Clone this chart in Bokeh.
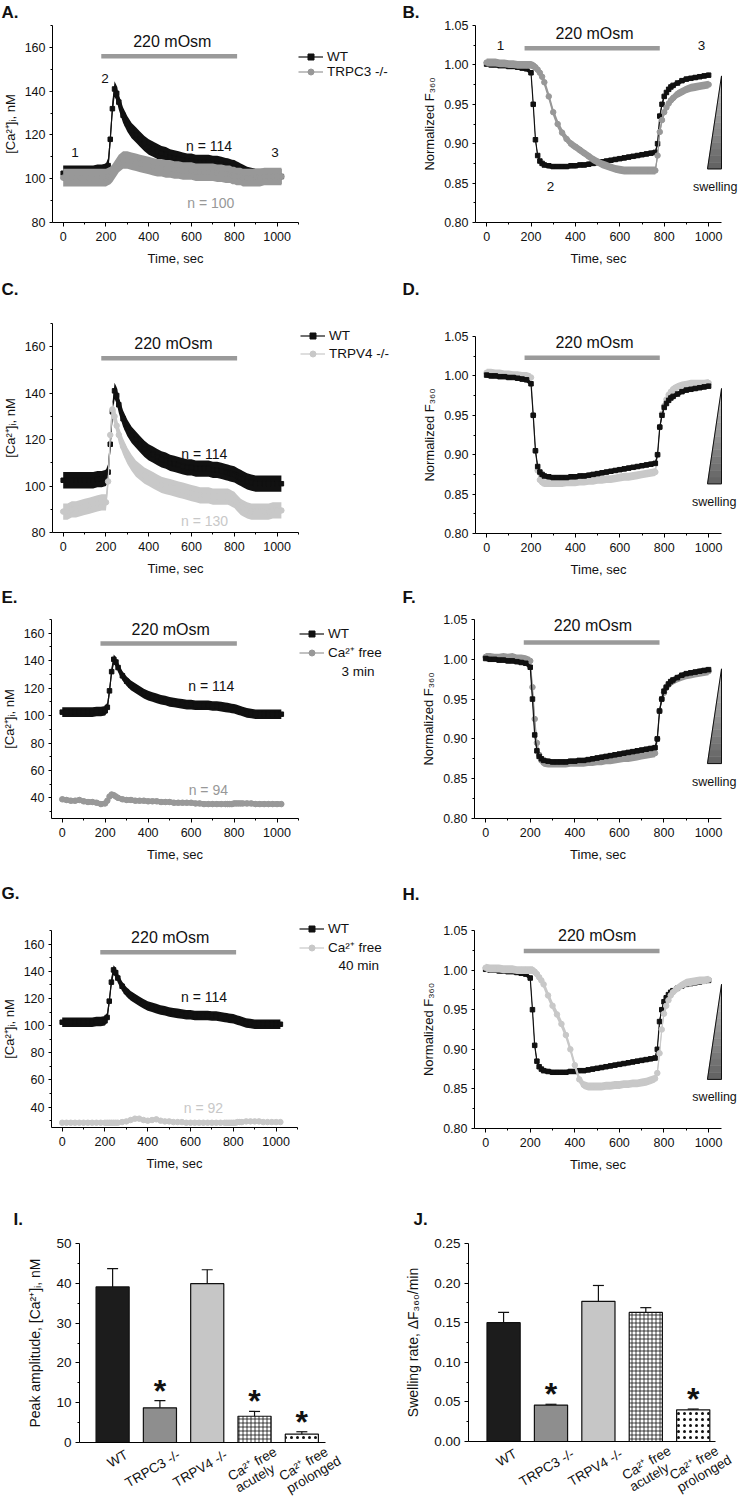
from bokeh.plotting import figure
from bokeh.layouts import column, row
from bokeh.models import (Range1d, FixedTicker, Label, Legend, LegendItem, Whisker,
                          TeeHead, ColumnDataSource, PrintfTickFormatter)
from bokeh.embed import file_html
from bokeh.resources import INLINE

FONT = "Liberation Sans"

# ------------------------------------------------------------------ data
T_CA = [0, 20, 40, 60, 80, 100, 120, 140, 160, 180, 200,
        210, 220, 230, 240, 250, 260,
        280, 300, 320, 340, 360, 380, 400, 420, 440, 460, 480, 500, 520, 540, 560, 580,
        600, 620, 640, 660, 680, 700, 720, 740, 760,
        770, 780, 790, 800, 810, 820, 830, 840,
        860, 880, 900, 920, 940, 960, 980, 1000, 1020]
T_F = T_CA[:-1]

STIM_CA = [178, 813]     # 220 mOsm application, left-panel time axis
STIM_F = [171, 780]      # 220 mOsm application, right-panel time axis

WT_CA = [102.5, 102.5, 102.5, 102.5, 102.5, 102.5, 102.5, 102.5, 103, 103, 103.5,
         106, 118, 132, 141, 139, 135,
         129, 125, 122, 120, 118, 116, 114.5, 113.5, 112.5, 111.5, 111, 110, 109.5, 109, 108.5, 108,
         108, 107.5, 107.5, 107.5, 107.5, 107, 107, 106.5, 106,
         105.8, 105.5, 105.2, 105, 104.5, 104, 103.5, 103,
         102, 101.5, 101, 101, 101, 101, 101, 101, 101]
TRPC3_CA = [100.5, 100.5, 100.5, 100.5, 100.5, 100.5, 100.5, 100.5, 100.5, 100.5, 100.5,
            101, 101.5, 102.5, 104, 105.5, 107,
            108.5, 108.5, 108, 107.5, 107, 106.5, 106, 105.5, 105, 105, 104.5, 104.5, 104, 104, 103.5, 103.5,
            103.5, 103, 103, 103, 103, 103, 102.5, 102.5, 102,
            102, 102, 101.5, 101.5, 101, 101, 101, 100.5,
            100.5, 100.5, 100.5, 100.5, 101, 101, 101, 101, 101]
TRPV4_CA = [89, 89, 90, 90, 90.5, 91, 91.5, 92, 92.5, 93, 93,
            102, 122, 133, 130, 126, 122,
            117, 113, 110, 107.5, 106, 104.5, 103.5, 102.5, 101.5, 100.5, 100, 99.5, 99, 98.5, 98, 97.5,
            97, 96.5, 96, 96, 96, 95.5, 95.5, 95.5, 95.5,
            95.5, 95, 94.5, 94, 93, 92, 91, 90.5,
            89.5, 89, 89, 89, 89, 89, 89.5, 89.5, 89.5]
CAFREE3_CA = [39, 38.5, 38, 38, 38.5, 37.5, 37, 37, 36.5, 35.5, 36,
              38, 41, 42.5, 42, 41, 40,
              39, 38.5, 38.5, 38, 38, 38, 37.5, 37.5, 37.5, 37, 37, 37, 36.5, 36.5, 36.5, 36.5,
              36.5, 36, 36, 35.5, 35.5, 35.5, 35.5, 35.5, 35.5,
              35.5, 35.5, 35.5, 36, 36, 36, 36, 36,
              36, 36, 35.5, 35.5, 35.5, 35.5, 35.5, 35.5, 35.5]
CAFREE40_CA = [28.5, 28.5, 28.5, 28.5, 28.5, 28.5, 28.5, 28.5, 28.5, 28.5, 28.5,
               28.5, 28.5, 28.5, 28.5, 28.5, 28.5,
               29, 29.5, 30.5, 31.5, 31.5, 30.5, 30, 30.5, 31, 30, 29.5, 29.5, 29, 29, 29, 28.5,
               28.5, 28.5, 28.5, 28.5, 28.5, 28.5, 28.5, 28.5, 28.5,
               28.5, 28.5, 28.5, 28.5, 28.5, 29, 29, 29,
               29.5, 29.5, 29.5, 29.5, 29, 29, 29, 29, 29]

WT_F = [1.001, 1.000, 1.000, 0.999, 0.999, 0.998, 0.998, 0.997, 0.996, 0.995, 0.990,
        0.950, 0.905, 0.885, 0.878, 0.875, 0.873,
        0.872, 0.871, 0.871, 0.871, 0.871, 0.872, 0.872, 0.873, 0.873, 0.874, 0.875, 0.876, 0.877, 0.878, 0.879, 0.880,
        0.881, 0.882, 0.883, 0.884, 0.885, 0.886, 0.887, 0.888, 0.889,
        0.900, 0.935, 0.950, 0.960, 0.965, 0.969, 0.972, 0.974,
        0.977, 0.980, 0.982, 0.983, 0.984, 0.985, 0.986, 0.987]
TRPC3_F = [1.003, 1.003, 1.003, 1.002, 1.002, 1.001, 1.001, 1.000, 1.000, 1.000, 1.000,
           0.999, 0.997, 0.994, 0.990, 0.985, 0.978,
           0.960, 0.940, 0.925, 0.914, 0.906, 0.900, 0.896, 0.892, 0.888, 0.884, 0.880, 0.877, 0.874, 0.872, 0.870, 0.868,
           0.867, 0.866, 0.866, 0.866, 0.866, 0.866, 0.866, 0.866, 0.866,
           0.885, 0.915, 0.930, 0.940, 0.946, 0.951, 0.955, 0.958,
           0.963, 0.966, 0.969, 0.971, 0.972, 0.973, 0.974, 0.975]
TRPV4_F = [1.004, 1.004, 1.003, 1.003, 1.002, 1.002, 1.001, 1.001, 1.000, 1.000, 0.998,
           0.950, 0.905, 0.880, 0.868, 0.865, 0.864,
           0.864, 0.864, 0.864, 0.864, 0.865, 0.865, 0.865, 0.866, 0.866, 0.867, 0.867, 0.868, 0.868, 0.869, 0.869, 0.870,
           0.871, 0.872, 0.872, 0.873, 0.874, 0.875, 0.876, 0.877, 0.878,
           0.900, 0.935, 0.952, 0.962, 0.970, 0.976, 0.980, 0.983,
           0.986, 0.988, 0.989, 0.990, 0.990, 0.990, 0.990, 0.991]
CAFREE3_F = [1.003, 1.003, 1.002, 1.002, 1.003, 1.002, 1.003, 1.001, 1.001, 1.000, 0.998,
             0.965, 0.925, 0.895, 0.880, 0.873, 0.870,
             0.869, 0.869, 0.869, 0.869, 0.869, 0.870, 0.870, 0.870, 0.870, 0.871, 0.871, 0.872, 0.872, 0.873, 0.873, 0.874,
             0.875, 0.876, 0.876, 0.877, 0.878, 0.879, 0.880, 0.881, 0.882,
             0.900, 0.935, 0.950, 0.958, 0.964, 0.968, 0.971, 0.973,
             0.976, 0.978, 0.980, 0.981, 0.982, 0.983, 0.984, 0.985]
CAFREE40_F = [1.003, 1.002, 1.002, 1.002, 1.001, 1.001, 1.001, 1.000, 1.000, 1.000, 1.000,
              1.000, 0.998, 0.995, 0.991, 0.987, 0.982,
              0.968, 0.955, 0.944, 0.932, 0.918, 0.900, 0.880, 0.862, 0.855, 0.853, 0.853, 0.853, 0.853, 0.854, 0.854, 0.855,
              0.855, 0.856, 0.856, 0.857, 0.857, 0.858, 0.859, 0.861, 0.863,
              0.870, 0.895, 0.925, 0.945, 0.955, 0.962, 0.968, 0.972,
              0.977, 0.981, 0.984, 0.985, 0.986, 0.987, 0.987, 0.988]

SEM_CA = {"WT": 3.5, "TRPC3": 4.0, "TRPV4": 3.5, "CAFREE3": 2.0, "CAFREE40": 1.5}
SEM_F = {"WT": 0.003, "TRPC3": 0.005, "TRPV4": 0.005, "CAFREE3": 0.005, "CAFREE40": 0.005}

N_CELLS = {"WT": 114, "TRPC3": 100, "TRPV4": 130, "CAFREE3": 94, "CAFREE40": 92}

GROUPS = ["WT", "TRPC3 -/-", "TRPV4 -/-", "Ca²⁺ free\nacutely", "Ca²⁺ free\nprolonged"]
PEAK = [39.1, 8.7, 39.9, 6.6, 2.1]
PEAK_ERR = [4.6, 1.8, 3.5, 1.2, 0.6]
PEAK_SIG = [False, True, False, True, True]
RATE = [0.150, 0.046, 0.177, 0.163, 0.040]
RATE_ERR = [0.013, 0.001, 0.020, 0.006, 0.001]
RATE_SIG = [False, True, False, False, True]

X_TICKS = [0, 200, 400, 600, 800, 1000]
X_MINOR_CA = [100, 300, 500, 700, 900, 1100]
X_MINOR_F = [100, 300, 500, 700, 900]
Y_TICKS_AC = [80, 100, 120, 140, 160]
Y_MINOR_AC = [90, 110, 130, 150, 170]
Y_TICKS_EG = [40, 60, 80, 100, 120, 140, 160]
Y_MINOR_EG = [30, 50, 70, 90, 110, 130, 150, 170]
F_TICKS = [0.80, 0.85, 0.90, 0.95, 1.00, 1.05]
F_MINOR = [0.825, 0.875, 0.925, 0.975, 1.025]

# ------------------------------------------------------------------ helpers
C_WT = "#111111"
C_DARKGRAY = "#989898"
C_LIGHTGRAY = "#c8c8c8"

LEFT_W, RIGHT_W = 393, 346
ROWS = [(0, 278), (278, 307), (585, 295), (880, 320), (1200, 297)]


def make_panel(fig_box, frame, xr, yr):
    """Figure whose whole canvas is the plotting frame; the axes are pinned at the
    data-range edges so that texts around them are never clipped."""
    fx, fy, fw, fh = fig_box
    x0, y0, x1, y1 = frame
    sx = (xr[1] - xr[0]) / (x1 - x0)
    sy = (yr[1] - yr[0]) / (y1 - y0)
    full_x = (xr[0] - (x0 - fx) * sx, xr[1] + (fx + fw - x1) * sx)
    full_y = (yr[0] - (fy + fh - y1) * sy, yr[1] + (y0 - fy) * sy)
    p = figure(width=fw, height=fh, x_range=Range1d(*full_x), y_range=Range1d(*full_y),
               output_backend="svg", toolbar_location=None, title=None,
               min_border_left=0, min_border_right=0, min_border_top=0, min_border_bottom=0)
    p.outline_line_color = None
    p.xgrid.visible = False
    p.ygrid.visible = False
    p.background_fill_color = "white"
    p.border_fill_color = "white"
    p.xaxis.fixed_location = yr[0]
    p.xaxis.bounds = xr
    p.yaxis.fixed_location = xr[0]
    p.yaxis.bounds = yr

    def X(px):
        return xr[0] + (px - x0) * sx

    def Y(py):
        return yr[1] - (py - y0) * sy

    def PX(x):
        return x0 + (x - xr[0]) / sx

    def PY(y):
        return y0 + (yr[1] - y) / sy

    return dict(p=p, X=X, Y=Y, PX=PX, PY=PY, frame=frame, fig=fig_box)


def style_axes(pn, xticks, xminor, yticks, yminor, xlabel, ylabel, yfmt=None,
               tick_fs="12.5px", label_fs="13px"):
    p = pn["p"]
    for ax in list(p.xaxis) + list(p.yaxis):
        ax.axis_line_color = "black"
        ax.axis_line_width = 1
        ax.major_tick_line_color = "black"
        ax.minor_tick_line_color = "black"
        ax.major_tick_in = 0
        ax.major_tick_out = 4
        ax.minor_tick_in = 0
        ax.minor_tick_out = 2
        ax.major_label_text_font = FONT
        ax.major_label_text_font_size = tick_fs
        ax.major_label_text_color = "#111111"
        ax.axis_label_text_font = FONT
        ax.axis_label_text_font_size = label_fs
        ax.axis_label_text_font_style = "normal"
        ax.axis_label_text_color = "#111111"
    p.xaxis.ticker = FixedTicker(ticks=xticks, minor_ticks=xminor)
    p.yaxis.ticker = FixedTicker(ticks=yticks, minor_ticks=yminor)
    p.xaxis.major_label_standoff = 5
    p.xaxis.axis_label_standoff = 7
    p.yaxis.major_tick_out = 3
    p.yaxis.major_label_standoff = 4
    p.yaxis.axis_label_standoff = 4
    p.xaxis.axis_label = xlabel
    p.yaxis.axis_label = ylabel
    if yfmt:
        p.yaxis.formatter = PrintfTickFormatter(format=yfmt)


def label(pn, x, y, text, size="13.5px", color="#111111", align="center",
          baseline="middle", style="normal", angle=0):
    pn["p"].add_layout(Label(x=x, y=y, text=text, text_font=FONT, text_font_size=size,
                             text_color=color, text_align=align, text_baseline=baseline,
                             text_font_style=style, angle=angle, angle_units="deg"))


def label_px(pn, px, py, text, **kw):
    label(pn, pn["X"](px), pn["Y"](py), text, **kw)


def panel_letter(pn, px, py, letter):
    label_px(pn, px, py, letter, size="17px", style="bold", align="left", baseline="top")


def draw_series(pn, t, m, sem, color, marker, size):
    p = pn["p"]
    src = ColumnDataSource(dict(t=t, m=m, lo=[v - sem for v in m], hi=[v + sem for v in m]))
    p.varea(x="t", y1="lo", y2="hi", source=src, fill_color=color, fill_alpha=1)
    ln = p.line(x="t", y="m", source=src, line_color=color, line_width=1.2)
    sc = p.scatter(x="t", y="m", source=src, marker=marker, size=size,
                   fill_color=color, line_color=color)
    return [ln, sc]


def stim(pn, span, y_bar, tx, y_text):
    pn["p"].line(x=span, y=[y_bar, y_bar], line_color="#9a9a9a", line_width=4.5)
    label(pn, tx, y_text, "220 mOsm", size="16px")


def add_legend(pn, entries, left_px, top_px, spacing):
    fx, fy, fw, fh = pn["fig"]
    n = len(entries)
    h = n * 15 + (n - 1) * spacing
    lg = Legend(items=[LegendItem(label=lab, renderers=rs) for lab, rs in entries],
                location=(left_px - fx, (fy + fh) - (top_px + h)),
                orientation="vertical", spacing=spacing, padding=0, margin=0,
                glyph_width=25, glyph_height=15, label_height=15, label_standoff=4,
                label_text_font=FONT, label_text_font_size="13.5px",
                label_text_color="#111111", border_line_color=None,
                background_fill_alpha=0)
    pn["p"].add_layout(lg)


def swelling(pn, x0, x1, yb, yt, lx, ly):
    p = pn["p"]
    n = 14
    xs, ys, cols = [], [], []
    for i in range(n):
        ya = yb + (yt - yb) * i / n
        yc = yb + (yt - yb) * (i + 1) / n
        xa = x0 + (x1 - x0) * (ya - yb) / (yt - yb)
        xc = x0 + (x1 - x0) * (yc - yb) / (yt - yb)
        xs.append([xa, x1, x1, xc])
        ys.append([ya, ya, yc, yc])
        g = int(100 + (195 - 100) * i / (n - 1))
        cols.append("#%02x%02x%02x" % (g, g, g))
    p.patches(xs=xs, ys=ys, fill_color=cols, line_color=cols, line_width=0.6)
    p.patch(x=[x0, x1, x1], y=[yb, yb, yt], fill_color=None, line_color="#111111", line_width=1)
    label(pn, lx, ly, "swelling", size="12.5px")


CA_XR = (-50, 1100)
F_XR = (-50, 1058)


def ca_panel(ri, frame, yr, yticks, yminor):
    ry, rh = ROWS[ri]
    pn = make_panel((0, ry, LEFT_W, rh), frame, CA_XR, yr)
    style_axes(pn, X_TICKS, X_MINOR_CA, yticks, yminor, "Time, sec", "[Ca²⁺]ᵢ, nM")
    return pn


def f_panel(ri, frame):
    ry, rh = ROWS[ri]
    pn = make_panel((LEFT_W, ry, RIGHT_W, rh), frame, F_XR, (0.80, 1.05))
    style_axes(pn, X_TICKS, X_MINOR_F, F_TICKS, F_MINOR, "Time, sec", "Normalized F₃₆₀", yfmt="%.2f")
    return pn


# ------------------------------------------------------------------ A
A = ca_panel(0, (52, 25, 298, 222), (80, 170), Y_TICKS_AC, Y_MINOR_AC)
panel_letter(A, 1, 2, "A.")
stim(A, STIM_CA, 156, 510, 162.5)
rA_wt = draw_series(A, T_CA, WT_CA, SEM_CA["WT"], C_WT, "square", 4.5)
rA_c3 = draw_series(A, T_CA, TRPC3_CA, SEM_CA["TRPC3"], C_DARKGRAY, "circle", 5.5)
label(A, 55, 112, "1")
label(A, 195, 146, "2")
label(A, 990, 112, "3")
label(A, 682, 115, "n = %d" % N_CELLS["WT"], size="14px")
label(A, 690, 89, "n = %d" % N_CELLS["TRPC3"], size="14px", color=C_DARKGRAY)
add_legend(A, [("WT", rA_wt), ("TRPC3 -/-", rA_c3)], 298, 49, 0)

# ------------------------------------------------------------------ B
B = f_panel(0, (475, 25, 721, 222))
panel_letter(B, 402, 2, "B.")
stim(B, STIM_F, 1.021, 486, 1.040)
draw_series(B, T_F, WT_F, SEM_F["WT"], C_WT, "square", 4.5)
draw_series(B, T_F, TRPC3_F, SEM_F["TRPC3"], C_DARKGRAY, "circle", 5.5)
label(B, 63, 1.025, "1")
label(B, 288, 0.846, "2")
label(B, 968, 1.025, "3")
swelling(B, 995, 1058, 0.868, 0.986, 1030, 0.845)

# ------------------------------------------------------------------ C
C = ca_panel(1, (52, 323, 298, 532), (80, 170), Y_TICKS_AC, Y_MINOR_AC)
panel_letter(C, 1, 279, "C.")
stim(C, STIM_CA, 155, 515, 161.5)
rC_wt = draw_series(C, T_CA, WT_CA, SEM_CA["WT"], C_WT, "square", 4.5)
rC_v4 = draw_series(C, T_CA, TRPV4_CA, SEM_CA["TRPV4"], C_LIGHTGRAY, "circle", 5.5)
label(C, 660, 113.8, "n = %d" % N_CELLS["WT"], size="14px")
label(C, 661, 85, "n = %d" % N_CELLS["TRPV4"], size="14px", color=C_LIGHTGRAY)
add_legend(C, [("WT", rC_wt), ("TRPV4 -/-", rC_v4)], 300, 327.5, 3)

# ------------------------------------------------------------------ D
D = f_panel(1, (475, 336, 721, 533))
panel_letter(D, 402, 279, "D.")
stim(D, STIM_F, 1.023, 486, 1.043)
draw_series(D, T_F, TRPV4_F, SEM_F["TRPV4"], C_LIGHTGRAY, "circle", 5.5)
draw_series(D, T_F, WT_F, SEM_F["WT"], C_WT, "square", 4.5)
swelling(D, 995, 1058, 0.863, 0.984, 1025, 0.840)

# ------------------------------------------------------------------ E
E = ca_panel(2, (51, 619, 298, 818), (25, 170), Y_TICKS_EG, Y_MINOR_EG)
panel_letter(E, 1, 587, "E.")
stim(E, STIM_CA, 152.5, 505, 163)
rE_wt = draw_series(E, T_CA, WT_CA, SEM_CA["WT"], C_WT, "square", 4.5)
rE_f3 = draw_series(E, T_CA, CAFREE3_CA, SEM_CA["CAFREE3"], C_DARKGRAY, "circle", 5.5)
label(E, 694, 121.5, "n = %d" % N_CELLS["WT"], size="14px")
label(E, 680, 46, "n = %d" % N_CELLS["CAFREE3"], size="14px", color=C_DARKGRAY)
add_legend(E, [("WT", rE_wt), ("Ca²⁺ free", rE_f3)], 299, 629, 2)
label_px(E, 341, 670.7, "3 min", align="left")

# ------------------------------------------------------------------ F
F = f_panel(2, (474, 619, 721, 818))
panel_letter(F, 402, 587, "F.")
stim(F, STIM_F, 1.021, 481, 1.042)
draw_series(F, T_F, CAFREE3_F, SEM_F["CAFREE3"], C_DARKGRAY, "circle", 5.5)
draw_series(F, T_F, WT_F, SEM_F["WT"], C_WT, "square", 4.5)
swelling(F, 995, 1058, 0.869, 0.988, 1025, 0.846)

# ------------------------------------------------------------------ G
G = ca_panel(3, (51, 930, 297, 1127), (25, 170), Y_TICKS_EG, Y_MINOR_EG)
panel_letter(G, 1, 883, "G.")
stim(G, STIM_CA, 154, 505, 165)
rG_wt = draw_series(G, T_CA, WT_CA, SEM_CA["WT"], C_WT, "square", 4.5)
rG_f40 = draw_series(G, T_CA, CAFREE40_CA, SEM_CA["CAFREE40"], C_LIGHTGRAY, "circle", 5.5)
label(G, 663, 121, "n = %d" % N_CELLS["WT"], size="14px")
label(G, 660, 39, "n = %d" % N_CELLS["CAFREE40"], size="14px", color=C_LIGHTGRAY)
add_legend(G, [("WT", rG_wt), ("Ca²⁺ free", rG_f40)], 299, 924, 2)
label_px(G, 338, 965, "40 min", align="left")

# ------------------------------------------------------------------ H
H = f_panel(3, (474, 930, 721, 1128))
panel_letter(H, 402, 884, "H.")
stim(H, STIM_F, 1.024, 500, 1.044)
draw_series(H, T_F, WT_F, SEM_F["WT"], C_WT, "square", 4.5)
draw_series(H, T_F, CAFREE40_F, SEM_F["CAFREE40"], C_LIGHTGRAY, "circle", 5.5)
swelling(H, 995, 1058, 0.862, 0.982, 1027, 0.840)

# ------------------------------------------------------------------ bars
BAR_STYLE = [dict(fill_color="#1c1c1c"),
             dict(fill_color="#8e8e8e"),
             dict(fill_color="#c6c6c6"),
             dict(fill_color="white", hatch_pattern="+", hatch_color="#111111",
                  hatch_scale=4, hatch_weight=0.8),
             dict(fill_color="white", hatch_pattern="dot", hatch_color="#111111",
                  hatch_scale=6, hatch_weight=4.5)]

POS = list(range(1, len(GROUPS) + 1))


def bar_panel(pn, vals, errs, sig, offsets):
    p = pn["p"]
    for i, (x, v) in enumerate(zip(POS, vals)):
        p.vbar(x=[x], top=[v], bottom=0, width=0.7, line_color="#111111",
               line_width=1.2, **BAR_STYLE[i])
    src = ColumnDataSource(dict(x=POS, lo=vals, hi=[v + e for v, e in zip(vals, errs)]))
    p.add_layout(Whisker(source=src, base="x", lower="lo", upper="hi",
                         line_color="#111111", line_width=1.2, lower_head=None,
                         upper_head=TeeHead(size=11, line_color="#111111", line_width=1.2),
                         level="overlay"))
    for x, v, e, s in zip(POS, vals, errs, sig):
        if s:
            cy = pn["PY"](v + e) - 12
            label(pn, x, pn["Y"](cy + 2), "*", size="32px", baseline="alphabetic", style="bold")
    axis_py = pn["frame"][3]
    for x, name, (dx, dy) in zip(POS, GROUPS, offsets):
        lines = name.split("\n")
        cx = pn["PX"](x)
        ax1, ay1 = cx + dx, axis_py + dy
        label_px(pn, ax1, ay1, lines[0], size="13.5px", align="right", angle=30)
        if len(lines) > 1:
            sx, sy = (-2, 17) if len(lines[1]) < 9 else (13, 9)
            label_px(pn, ax1 + sx, ay1 + sy, lines[1], size="13.5px", align="right", angle=30)


def bar_axes(pn, yticks, yminor, ylabel, yfmt=None):
    p = pn["p"]
    style_axes(pn, [], [], yticks, yminor, "", ylabel, yfmt=yfmt, tick_fs="13.5px", label_fs="14px")
    p.xaxis.major_tick_out = 0
    p.xaxis.minor_tick_out = 0
    p.xaxis.axis_label = None
    p.yaxis.major_tick_out = 4
    p.yaxis.major_label_standoff = 4
    p.yaxis.axis_label_standoff = 10


ry, rh = ROWS[4]
I = make_panel((0, ry, LEFT_W, rh), (79, 1243, 325, 1442), (0.30, 5.50), (0, 50))
bar_axes(I, [0, 10, 20, 30, 40, 50], [5, 15, 25, 35, 45], "Peak amplitude, [Ca²⁺]ᵢ, nM")
panel_letter(I, 13, 1209, "I.")
bar_panel(I, PEAK, PEAK_ERR, PEAK_SIG, [(14, 11), (19, 11), (19, 11), (21, 8), (25, 8)])

J = make_panel((LEFT_W, ry, RIGHT_W, rh), (468, 1243, 715, 1441), (0.26, 5.47), (0, 0.25))
bar_axes(J, [0, 0.05, 0.10, 0.15, 0.20, 0.25], [0.025, 0.075, 0.125, 0.175, 0.225],
         "Swelling rate, ΔF₃₆₀/min", yfmt="%.2f")
panel_letter(J, 413, 1209, "J.")
bar_panel(J, RATE, RATE_ERR, RATE_SIG, [(12, 11), (22, 11), (23, 11), (24, 8), (24, 8)])

layout = column(row(A["p"], B["p"]), row(C["p"], D["p"]), row(E["p"], F["p"]),
                row(G["p"], H["p"]), row(I["p"], J["p"]))

open("out.html", "w").write(file_html(layout, INLINE))
